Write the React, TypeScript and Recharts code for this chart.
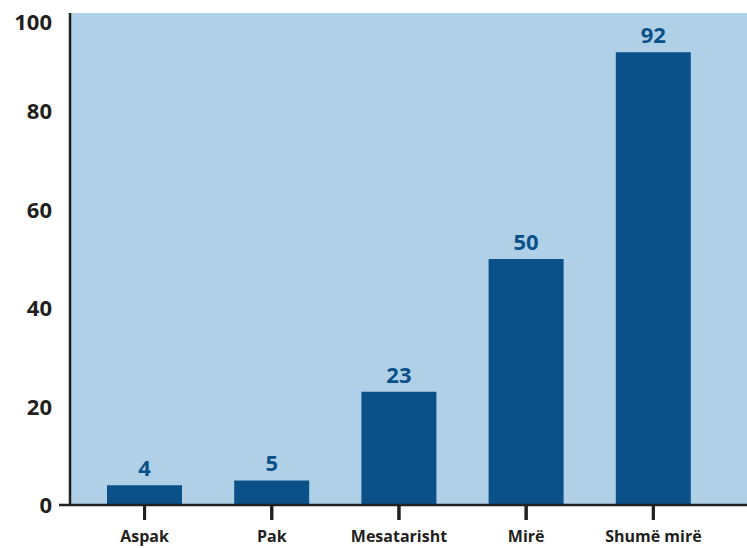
import { Bar, BarChart, CartesianGrid, LabelList, XAxis, YAxis } from "recharts";

const categories = ["Aspak", "Pak", "Mesatarisht", "Mirë", "Shumë mirë"];
const counts = [4, 5, 23, 50, 92];
const yTicks = [0, 20, 40, 60, 80, 100];

const data = categories.map((name, i) => ({ name, count: counts[i] }));

const font = "'Open Sans', 'DejaVu Sans', sans-serif";
const ink = "#231f20";
const dark = "#0a5089";

// y tick: top label pushed down so it is not cut, 0 gets a small stub of the axis
function YTick(props: any) {
  const { x, y, payload } = props;
  const v = payload.value;
  const shift = v === 100 ? 9 : 0;
  return (
    <g>
      {v === 0 && <rect x={x + 7} y={y - 1.25} width={11} height={2.5} fill={ink} />}
      <text
        x={x}
        y={y + shift}
        dy="0.36em"
        textAnchor="end"
        fill={ink}
        fontSize={22}
        fontWeight={700}
        fontFamily={font}
      >
        {v}
      </text>
    </g>
  );
}

// x tick: label plus the mark hanging under the axis
function XTick(props: any) {
  const { x, y, payload } = props;
  return (
    <g>
      <rect x={x - 1.5} y={y - 25} width={3} height={15} fill={ink} />
      <text
        x={x}
        y={y}
        dy="0.75em"
        textAnchor="middle"
        fill={ink}
        fontSize={16}
        fontWeight={700}
        fontFamily={font}
      >
        {payload.value}
      </text>
    </g>
  );
}

// same mark again from the bar geometry, in case the axis one is hidden
function TickMark(props: any) {
  const vb = props.viewBox;
  if (!vb) return null;
  const cx = vb.x + vb.width / 2;
  const bottom = vb.y + vb.height;
  return <rect x={cx - 1.5} y={bottom} width={3} height={15} fill={ink} />;
}

export default function App() {
  return (
    <div style={{ position: "fixed", top: 0, left: 0, width: 747, height: 548, background: "#fff" }}>
      <BarChart
        width={747}
        height={548}
        data={data}
        margin={{ top: 13, right: 0, left: 0, bottom: 0 }}
        barSize={75}
        style={{ overflow: "visible" }}
      >
        <CartesianGrid fill="#b0d0e8" stroke="none" horizontal={false} vertical={false} />
        <XAxis
          dataKey="name"
          height={43}
          padding={{ left: 11, right: 30 }}
          axisLine={{ stroke: ink, strokeWidth: 2.5 }}
          tickLine={false}
          tickSize={15}
          tickMargin={10}
          tick={<XTick />}
          interval={0}
        />
        <YAxis
          width={70}
          domain={[0, 100]}
          ticks={yTicks}
          axisLine={{ stroke: ink, strokeWidth: 2.5 }}
          tickLine={false}
          tickSize={0}
          tickMargin={18}
          tick={<YTick />}
        />
        <Bar dataKey="count" fill={dark} isAnimationActive={false}>
          <LabelList dataKey="count" content={<TickMark />} />
          <LabelList
            dataKey="count"
            position="top"
            offset={9}
            fill={dark}
            fontSize={22}
            fontWeight={700}
            fontFamily={font}
          />
        </Bar>
      </BarChart>
    </div>
  );
}
